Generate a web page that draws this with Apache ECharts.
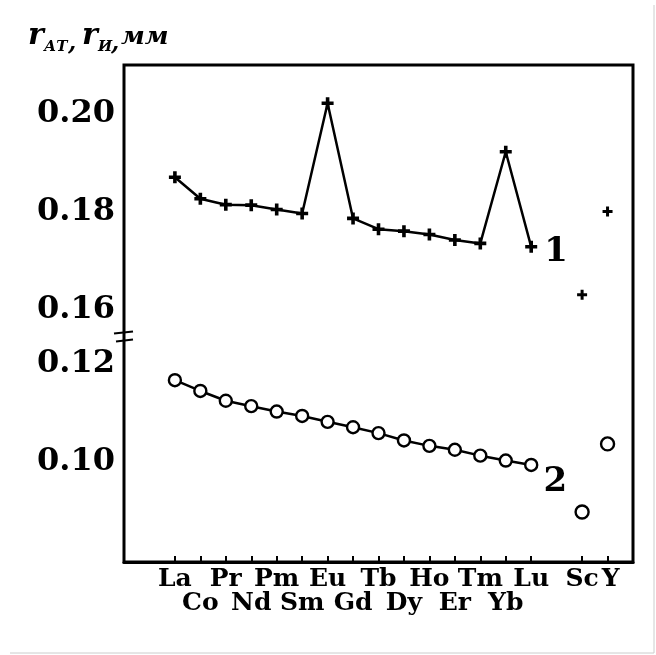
<!DOCTYPE html>
<html>
<head>
<meta charset="utf-8">
<script src="https://cdn.jsdelivr.net/npm/echarts@6/dist/echarts.min.js"></script>
<style>html,body{margin:0;padding:0;background:#fff}#c{width:656px;height:655px}</style>
</head>
<body>
<div id="c"></div>
<script>
const elements = ['La','Co','Pr','Nd','Pm','Sm','Eu','Gd','Tb','Dy','Ho','Er','Tm','Yb','Lu'];
const extraElements = ['Sc','Y'];
const secondRowLabels = ['Co','Nd','Sm','Gd','Dy','Er','Yb'];
const atomicRadius = [0.1871,0.1827,0.1815,0.1814,0.1805,0.1797,0.2022,0.1787,0.1765,0.1761,0.1754,0.1743,0.1736,0.1923,0.1729];
const ionicRadius = [0.1166,0.1144,0.1124,0.1113,0.1102,0.1093,0.1081,0.1070,0.1058,0.1043,0.1032,0.1024,0.1012,0.1002,0.0993];
const extraAtomic = [0.1631,0.1801];
const extraIonic = [0.0897,0.1036];
const yTickValues = [0.10,0.11,0.12,0.16,0.17,0.18,0.19,0.20];
const yLabelValues = [0.10,0.12,0.16,0.18,0.20];
const seriesNames = ['1','2'];

const categories = [' ', '  ', ...elements, '   ', ...extraElements, '    '];
const isReal = v => v.trim() !== '';
const serif = 'DejaVu Serif';
const plusPath = 'path://M3.5,0H6.5V3.5H10V6.5H6.5V10H3.5V6.5H0V3.5H3.5Z';

const chart = echarts.init(document.getElementById('c'), null, {renderer: 'canvas'});
const option = {
  backgroundColor: '#fff',
  animation: false,
  grid: {left: 124, right: 23, top: 65, bottom: 93, show: true, borderColor: '#000', borderWidth: 3, outerBoundsMode: 'none'},
  xAxis: {
    type: 'category', data: categories, boundaryGap: false,
    axisLine: {lineStyle: {color: '#000', width: 3}},
    axisTick: {inside: true, length: 6, interval: (i, v) => isReal(v), lineStyle: {color: '#000', width: 2}},
    axisLabel: {
      interval: 0, margin: 5,
      color: '#000', fontFamily: serif, fontWeight: 'bold', fontSize: 25, lineHeight: 24,
      formatter: v => !isReal(v) ? '' : (secondRowLabels.includes(v) ? '\n' + v : (v === 'Y' ? '{y|Y}' : v)),
      rich: {y: {padding: [0, 0, 0, 6], color: '#000', fontFamily: serif, fontWeight: 'bold', fontSize: 25, lineHeight: 24}}
    },
    splitLine: {show: false}
  },
  yAxis: {
    type: 'value', min: 0.0795, max: 0.21,
    breaks: [{start: 0.1253, end: 0.1552, gap: '0.8%'}],
    breakArea: {show: true, expandOnClick: false, itemStyle: {color: 'rgba(0,0,0,0)', borderColor: 'rgba(0,0,0,0)', opacity: 0}},
    axisLine: {lineStyle: {color: '#000', width: 3}},
    axisTick: {inside: true, length: 8, customValues: yTickValues, lineStyle: {color: '#000', width: 2}},
    axisLabel: {customValues: yLabelValues, formatter: v => v.toFixed(2), margin: 9, color: '#000', fontFamily: serif, fontWeight: 'bold', fontSize: 32},
    splitLine: {show: false}
  },
  series: [
    {
      name: seriesNames[0], type: 'line', data: elements.map((e, i) => [e, atomicRadius[i]]),
      symbol: plusPath, symbolSize: 12, showAllSymbol: true,
      lineStyle: {color: '#000', width: 2.5}, itemStyle: {color: '#000'},
      label: {show: true, position: 'right', offset: [2, 5], color: '#000', fontFamily: serif, fontWeight: 'bold', fontSize: 34,
        formatter: p => p.dataIndex === elements.length - 1 ? seriesNames[0] : ''}
    },
    {
      name: seriesNames[1], type: 'line', data: elements.map((e, i) => [e, ionicRadius[i]]),
      symbol: 'circle', symbolSize: 12, showAllSymbol: true,
      lineStyle: {color: '#000', width: 2.5}, itemStyle: {color: '#fff', borderColor: '#000', borderWidth: 2.4},
      label: {show: true, position: 'right', offset: [0, 17], color: '#000', fontFamily: serif, fontWeight: 'bold', fontSize: 34,
        formatter: p => p.dataIndex === elements.length - 1 ? seriesNames[1] : ''}
    },
    {
      type: 'scatter', data: extraElements.map((e, i) => [e, extraAtomic[i]]),
      symbol: plusPath, symbolSize: 10, itemStyle: {color: '#000', opacity: 1}
    },
    {
      type: 'scatter', data: extraElements.map((e, i) => [e, extraIonic[i]]),
      symbol: 'circle', symbolSize: 13, itemStyle: {color: '#fff', borderColor: '#000', borderWidth: 2.4, opacity: 1}
    }
  ],
  graphic: [
    {type: 'line', shape: {x1: 10, y1: 5, x2: 10, y2: 653}, style: {stroke: '#000', lineWidth: 2}},
    {type: 'line', shape: {x1: 10, y1: 5, x2: 654, y2: 5}, style: {stroke: '#000', lineWidth: 2}},
    {type: 'line', shape: {x1: 654, y1: 5, x2: 654, y2: 653}, style: {stroke: '#ccc', lineWidth: 1}},
    {type: 'line', shape: {x1: 10, y1: 653, x2: 654, y2: 653}, style: {stroke: '#ccc', lineWidth: 1}},
    {type: 'text', left: 28, top: 21, style: {text: 'r', font: 'italic bold 30px "DejaVu Serif"', fill: '#000'}},
    {type: 'text', left: 44, top: 40, style: {text: 'АТ', font: 'italic bold 15px "DejaVu Serif"', fill: '#000'}},
    {type: 'text', left: 68, top: 32, style: {text: ',', font: 'italic bold 24px "DejaVu Serif"', fill: '#000'}},
    {type: 'text', left: 82, top: 21, style: {text: 'r', font: 'italic bold 30px "DejaVu Serif"', fill: '#000'}},
    {type: 'text', left: 98, top: 40, style: {text: 'И', font: 'italic bold 15px "DejaVu Serif"', fill: '#000'}},
    {type: 'text', left: 111, top: 32, style: {text: ',', font: 'italic bold 24px "DejaVu Serif"', fill: '#000'}},
    {type: 'text', left: 121, top: 25, style: {text: 'мм', font: 'italic bold 25px "DejaVu Serif"', fill: '#000'}}
  ]
};
chart.setOption(option);
const yb = chart.convertToPixel({yAxisIndex: 0}, 0.14);
const x0 = chart.convertToPixel({xAxisIndex: 0}, categories[0]);
if (isFinite(yb) && isFinite(x0)) {
  chart.setOption({graphic: [
    {type: 'bezierCurve', shape: {x1: x0 - 10, y1: yb - 2, x2: x0 + 9, y2: yb - 4, cpx1: x0, cpy1: yb - 8}, style: {stroke: '#000', lineWidth: 2, fill: null}},
    {type: 'bezierCurve', shape: {x1: x0 - 8, y1: yb + 6, x2: x0 + 9, y2: yb + 4, cpx1: x0, cpy1: yb - 2}, style: {stroke: '#000', lineWidth: 2, fill: null}}
  ]});
}
</script>
</body>
</html>
